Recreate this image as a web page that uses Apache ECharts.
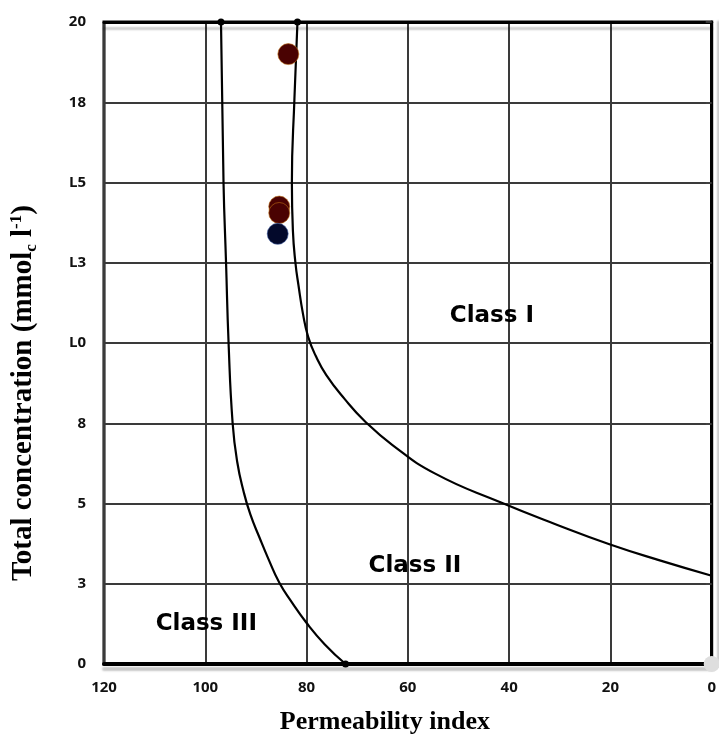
<!DOCTYPE html>
<html>
<head>
<meta charset="utf-8">
<script src="https://cdn.jsdelivr.net/npm/echarts@6/dist/echarts.min.js"></script>
<style>
  html, body { margin: 0; padding: 0; background: #fff; }
  #chart { width: 719px; height: 740px; }
</style>
</head>
<body>
<div id="chart"></div>
<script>
// tick labels as printed on the original (rounded / scanned)
const yTickLabels = ["0", "3", "5", "8", "L0", "L3", "L5", "18", "20"];

// class I / class II boundary curve
const class1X = [81.8, 82.4, 82.9, 82.7, 82.2, 81.6, 80.7, 79.7, 78.2, 76.1, 72.5, 68.6, 63.1, 54.6, 41.6, 30.6, 20.2, 10.1, 0];
const class1Y = [20, 17.6, 15.0, 13.5, 12.5, 11.8, 10.9, 10.2, 9.6, 9.0, 8.26, 7.58, 6.83, 5.93, 5.03, 4.34, 3.73, 3.22, 2.75];

// class II / class III boundary curve
const class3X = [96.9, 96.4, 95.9, 95.4, 94.6, 93.7, 92.4, 91.1, 89.3, 87.5, 85.4, 82.9, 80.1, 76.4, 72.3];
const class3Y = [20, 15.0, 12.5, 10.0, 7.5, 6.3, 5.35, 4.66, 3.94, 3.26, 2.54, 1.92, 1.3, 0.61, 0];

// samples
const redX = [83.6, 85.4, 85.4];
const redY = [19.0, 14.25, 14.05];
const blueX = [85.7];
const blueY = [13.4];

// region labels
const classNames = ["Class I", "Class II", "Class III"];
const classX = [43.4, 58.6, 99.8];
const classY = [10.85, 3.05, 1.25];

const zip = (xs, ys) => xs.map((x, i) => [x, ys[i]]);

const endPoints = [
  [class3X[0], class3Y[0]],
  [class1X[0], class1Y[0]],
  [class3X[class3X.length - 1], class3Y[class3Y.length - 1]]
];

const chart = echarts.init(document.getElementById("chart"));

const classLabelStyle = {
  show: true,
  position: "inside",
  fontFamily: "DejaVu Sans",
  fontWeight: "bold",
  fontSize: 23,
  color: "#000",
  opacity: 1,
  textShadowColor: "rgba(240,170,40,0.5)",
  textShadowOffsetX: -1,
  textShadowOffsetY: 1,
  textShadowBlur: 0
};

chart.setOption({
  animation: false,
  backgroundColor: "#fff",
  grid: {
    left: 102, right: 2, top: 22, bottom: 73,
    show: true, borderColor: "#000", borderWidth: 3
  },
  xAxis: [
    {
      type: "value",
      inverse: true,
      min: 0, max: 120, interval: 20,
      name: "Permeability index",
      nameLocation: "middle",
      nameGap: 45,
      nameTextStyle: {
        fontFamily: "Liberation Serif",
        fontWeight: "bold",
        fontSize: 26,
        color: "#000",
        padding: [0, 46, 0, 0]
      },
      axisLine: {
        lineStyle: { color: "#000", width: 4, shadowColor: "rgba(0,0,0,0.22)", shadowOffsetY: 5, shadowBlur: 2 }
      },
      axisTick: { show: false },
      axisLabel: {
        margin: 16,
        fontFamily: "Open Sans",
        fontWeight: "bold",
        fontSize: 15,
        color: "#111"
      },
      splitLine: { lineStyle: { color: "#3a3a3a", width: 2 } }
    },
    {
      type: "value",
      position: "top",
      inverse: true,
      min: 0, max: 120,
      axisLine: {
        lineStyle: { color: "#000", width: 3, shadowColor: "rgba(0,0,0,0.2)", shadowOffsetY: 6, shadowBlur: 2 }
      },
      axisTick: { show: false },
      axisLabel: { show: false },
      splitLine: { show: false }
    }
  ],
  yAxis: {
    type: "value",
    min: 0, max: 20, interval: 2.5,
    name: "{t|Total concentration (mmol}{sub|c}{t| l}{sup|-1}{t|)}",
    nameLocation: "middle",
    nameRotate: 90,
    nameGap: 64,
    nameTextStyle: {
      padding: [0, 100, 0, 0],
      rich: {
        t: { fontFamily: "Liberation Serif", fontWeight: "bold", fontSize: 29, color: "#000", lineHeight: 32 },
        sub: { fontFamily: "Liberation Serif", fontWeight: "bold", fontSize: 17, color: "#000", lineHeight: 17, verticalAlign: "bottom" },
        sup: { fontFamily: "Liberation Serif", fontWeight: "bold", fontSize: 17, color: "#000", lineHeight: 17, verticalAlign: "top" }
      }
    },
    axisLine: {
      show: true,
      lineStyle: { color: "#000", width: 3, shadowColor: "rgba(0,0,0,0.22)", shadowOffsetX: 7, shadowBlur: 2 }
    },
    axisTick: { show: true, length: 6, lineStyle: { color: "#444", width: 1.5 } },
    axisLabel: {
      margin: 18,
      fontFamily: "Open Sans",
      fontWeight: "bold",
      fontSize: 15,
      color: "#111",
      formatter: (value) => yTickLabels[Math.round(value / 2.5)]
    },
    splitLine: { lineStyle: { color: "#3a3a3a", width: 2 } }
  },
  series: [
    {
      name: "Class I boundary",
      type: "line",
      data: zip(class1X, class1Y),
      smooth: 0.5,
      showSymbol: false,
      lineStyle: { color: "#000", width: 2.2 },
      z: 3
    },
    {
      name: "Class III boundary",
      type: "line",
      data: zip(class3X, class3Y),
      smooth: 0.5,
      showSymbol: false,
      lineStyle: { color: "#000", width: 2.2 },
      z: 3
    },
    {
      name: "ends",
      type: "scatter",
      data: endPoints,
      symbolSize: 7,
      itemStyle: { color: "#000", opacity: 1 },
      z: 4
    },
    {
      name: "origin",
      type: "scatter",
      data: [[0, 0]],
      symbolSize: 16,
      itemStyle: { color: "#dedede", opacity: 1 },
      z: 2
    },
    {
      name: "samples A",
      type: "scatter",
      data: zip(redX, redY),
      symbolSize: 21,
      itemStyle: { color: "#4a0202", opacity: 1, borderColor: "rgba(190,110,20,0.6)", borderWidth: 1 },
      z: 5
    },
    {
      name: "samples B",
      type: "scatter",
      data: zip(blueX, blueY),
      symbolSize: 21,
      itemStyle: { color: "#03092b", opacity: 1, borderColor: "rgba(60,90,160,0.6)", borderWidth: 1 },
      z: 6
    },
    {
      name: "classes",
      type: "scatter",
      data: classNames.map((n, i) => ({ name: n, value: [classX[i], classY[i]] })),
      symbolSize: 0,
      itemStyle: { opacity: 1 },
      label: Object.assign({}, classLabelStyle, { formatter: (p) => p.name }),
      silent: true,
      z: 7
    }
  ]
});
</script>
</body>
</html>
